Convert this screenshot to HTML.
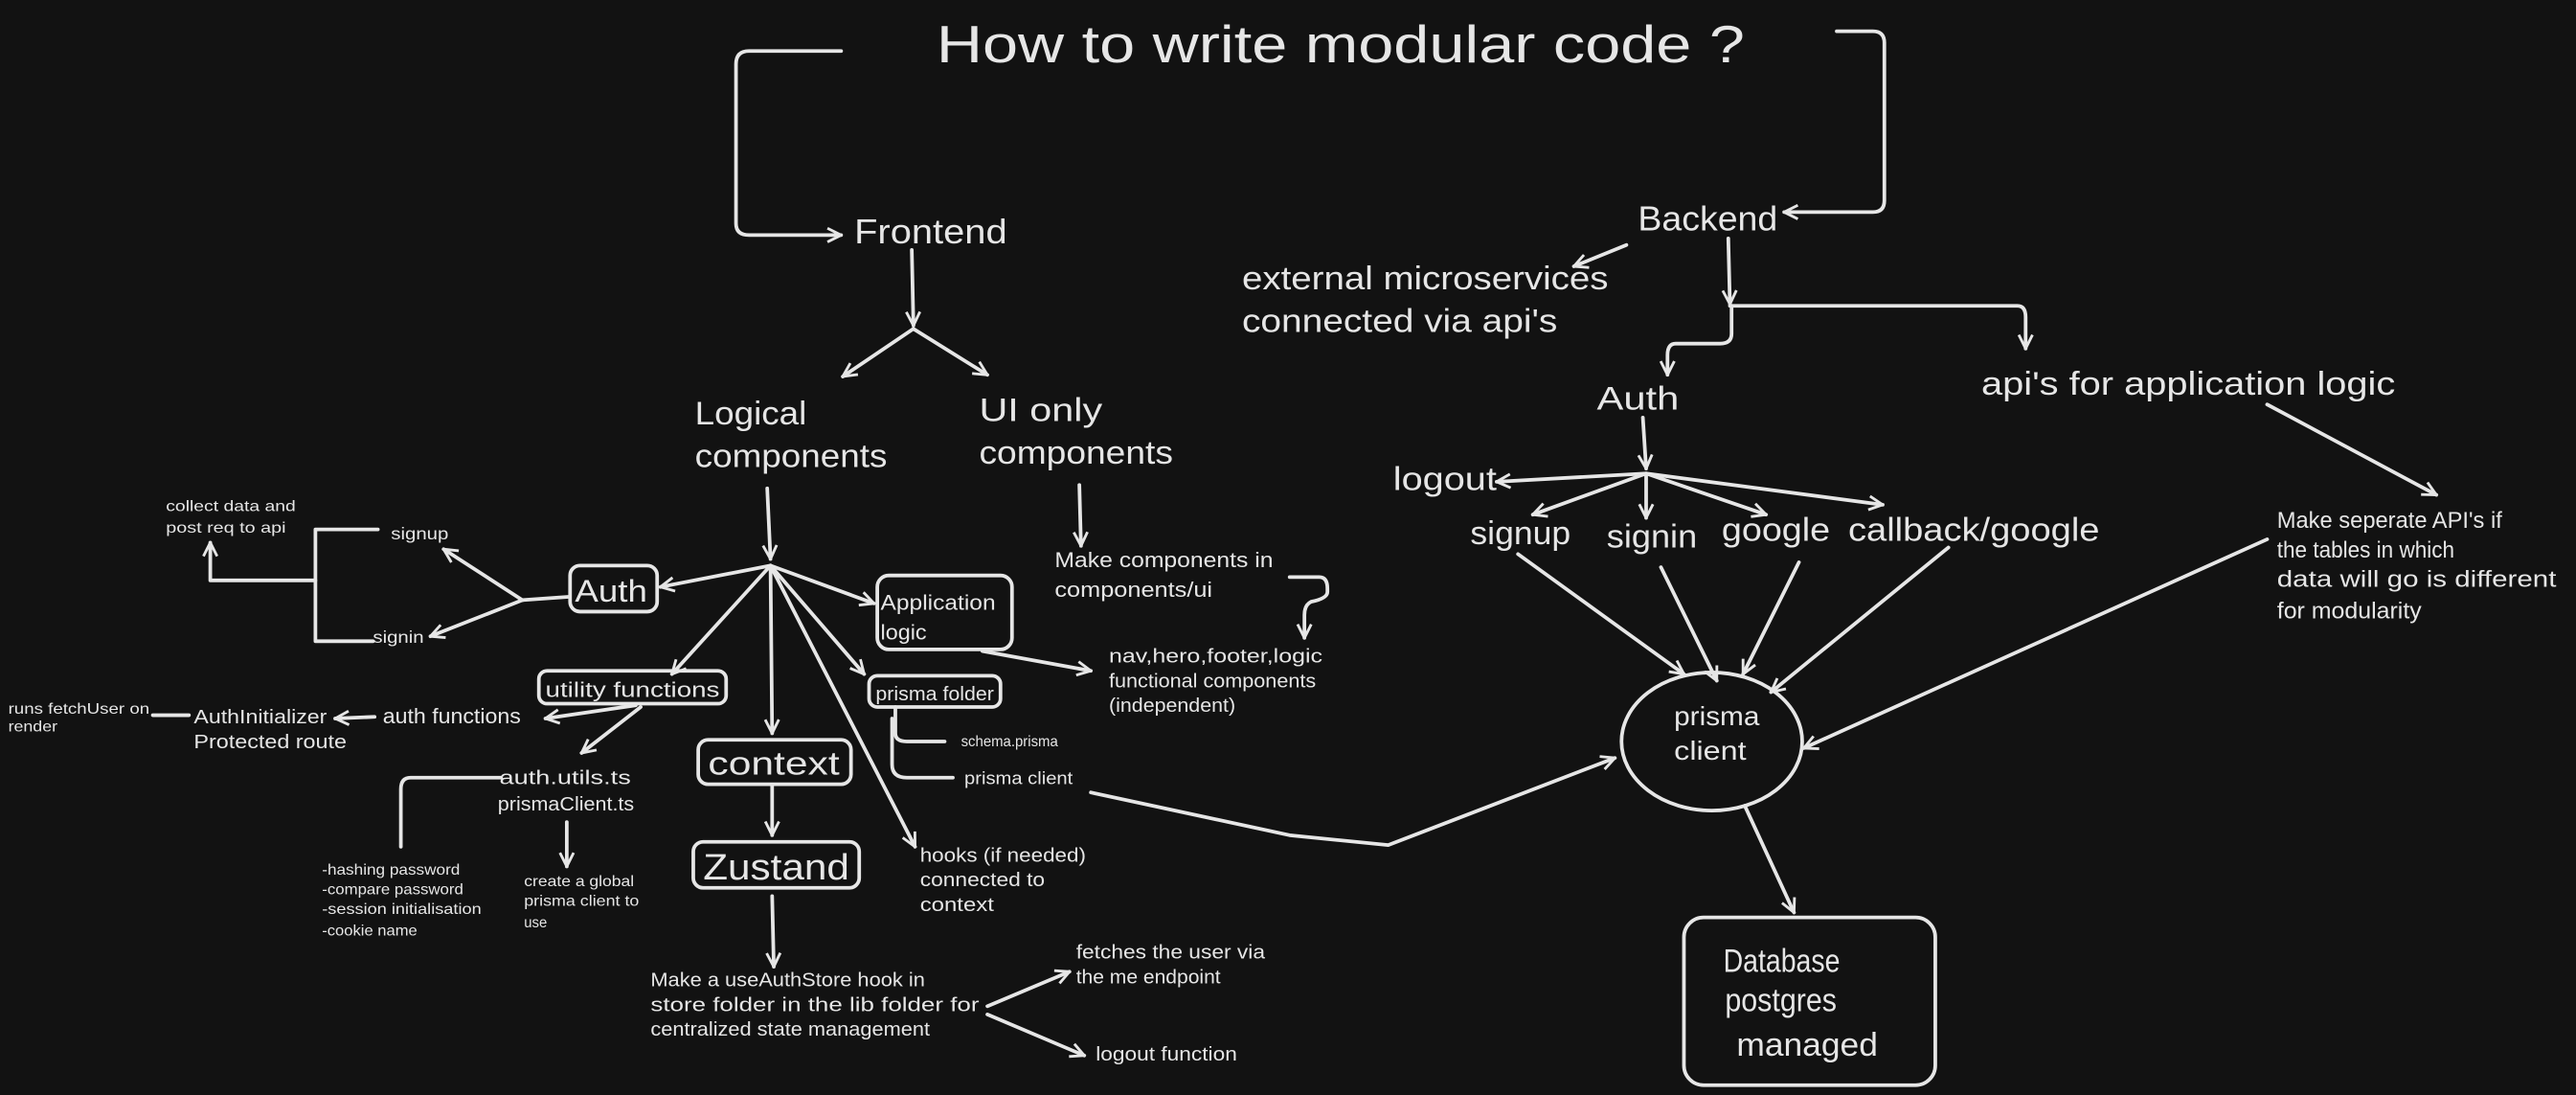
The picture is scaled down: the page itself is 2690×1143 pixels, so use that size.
<!DOCTYPE html>
<html><head><meta charset="utf-8"><style>
html,body{margin:0;padding:0;background:#121212;}
svg{display:block}
text{font-family:"Liberation Sans",sans-serif;fill:#e6e6e6;}
</style></head><body>
<svg width="2690" height="1143" viewBox="0 0 1568 666" preserveAspectRatio="none" xmlns="http://www.w3.org/2000/svg">
<defs>
<marker id="a" viewBox="0 0 12 12" refX="11" refY="6" markerWidth="10" markerHeight="10" markerUnits="userSpaceOnUse" orient="auto">
<path d="M1,1 L11,6 L1,11" fill="none" stroke="#e6e6e6" stroke-width="2"/>
</marker>
</defs>
<rect width="1568" height="666" fill="#121212"/>
<g fill="none" stroke="#e6e6e6" stroke-width="2.2" stroke-linecap="round" stroke-linejoin="round">
<path d="M512,31 H456 Q448,31 448,39 V136 Q448,143 456,143 H512" marker-end="url(#a)"/>
<path d="M1118,19 H1140 Q1147,19 1147,26 V122 Q1147,129 1140,129 H1086" marker-end="url(#a)"/>
<path d="M555,152 L556,198" marker-end="url(#a)"/>
<path d="M556,200 L513,229" marker-end="url(#a)"/>
<path d="M556,200 L601,228" marker-end="url(#a)"/>
<path d="M657,295 L658,332" marker-end="url(#a)"/>
<path d="M785,351 H803 Q808,351 808,358 V360 Q808,364 798,366 Q794,368 794,374 V388" marker-end="url(#a)"/>
<path d="M467,297 L469,340" marker-end="url(#a)"/>
<path d="M469,344 L402,357" marker-end="url(#a)"/>
<path d="M469,344 L532,367" marker-end="url(#a)"/>
<path d="M469,344 L409,410" marker-end="url(#a)"/>
<path d="M469,344 L470,446" marker-end="url(#a)"/>
<path d="M469,344 L526,410" marker-end="url(#a)"/>
<path d="M469,344 L557,515" marker-end="url(#a)"/>
<rect x="347" y="344" width="53" height="28" rx="6"/>
<rect x="534" y="350" width="82" height="45" rx="7"/>
<rect x="328" y="408" width="114" height="20" rx="5"/>
<rect x="529" y="411" width="80" height="19" rx="5"/>
<rect x="425" y="450" width="93" height="27" rx="6"/>
<rect x="422" y="512" width="101" height="28" rx="6"/>
<path d="M470,478 L470,508" marker-end="url(#a)"/>
<path d="M470,545 L471,588" marker-end="url(#a)"/>
<path d="M601,612 L651,591" marker-end="url(#a)"/>
<path d="M601,617 L660,642" marker-end="url(#a)"/>
<path d="M598,396 L664,408" marker-end="url(#a)"/>
<path d="M545,430 V446 Q545,451 552,451 H575"/>
<path d="M543,437 V465 Q543,473 552,473 H580"/>
<path d="M664,482 L785,508 L845,514 L983,461" marker-end="url(#a)"/>
<path d="M387,429 L332,437" marker-end="url(#a)"/>
<path d="M390,430 L354,458" marker-end="url(#a)"/>
<path d="M228,436 L204,437" marker-end="url(#a)"/>
<path d="M93,435 L115,435"/>
<path d="M305,473 H250 Q244,473 244,480 V515"/>
<path d="M345,500 L345,527" marker-end="url(#a)"/>
<path d="M346,363 L318,365"/>
<path d="M318,365 L270,334" marker-end="url(#a)"/>
<path d="M318,365 L262,387" marker-end="url(#a)"/>
<path d="M230,322 H192 V390 H227"/>
<path d="M192,353 H128 V330" marker-end="url(#a)"/>
<path d="M990,149 L958,162" marker-end="url(#a)"/>
<path d="M1052,145 L1053,185" marker-end="url(#a)"/>
<path d="M1053,186 H1228 Q1233,186 1233,193 V212" marker-end="url(#a)"/>
<path d="M1054,186 V203 Q1054,209 1047,209 H1020 Q1015,209 1015,216 V228" marker-end="url(#a)"/>
<path d="M1000,254 L1002,285" marker-end="url(#a)"/>
<path d="M1002,288 L911,293" marker-end="url(#a)"/>
<path d="M1002,288 L933,313" marker-end="url(#a)"/>
<path d="M1002,288 L1002,315" marker-end="url(#a)"/>
<path d="M1002,288 L1075,313" marker-end="url(#a)"/>
<path d="M1002,288 L1146,307" marker-end="url(#a)"/>
<path d="M924,337 L1025,410" marker-end="url(#a)"/>
<path d="M1011,345 L1045,414" marker-end="url(#a)"/>
<path d="M1095,342 L1061,410" marker-end="url(#a)"/>
<path d="M1186,333 L1078,421" marker-end="url(#a)"/>
<path d="M1380,328 L1098,455" marker-end="url(#a)"/>
<path d="M1380,246 L1483,301" marker-end="url(#a)"/>
<ellipse cx="1042" cy="451" rx="55" ry="42"/>
<path d="M1062,490 L1092,555" marker-end="url(#a)"/>
<rect x="1025" y="558" width="153" height="102" rx="12"/>
</g>
<g>
<text x="570" y="38" font-size="32" textLength="492" lengthAdjust="spacingAndGlyphs">How to write modular code ?</text>
<text x="520" y="148" font-size="21" textLength="93" lengthAdjust="spacingAndGlyphs">Frontend</text>
<text x="997" y="140" font-size="21" textLength="85" lengthAdjust="spacingAndGlyphs">Backend</text>
<text x="423" y="258" font-size="20" textLength="68" lengthAdjust="spacingAndGlyphs">Logical</text>
<text x="423" y="284" font-size="20" textLength="117" lengthAdjust="spacingAndGlyphs">components</text>
<text x="596" y="256" font-size="20" textLength="75" lengthAdjust="spacingAndGlyphs">UI only</text>
<text x="596" y="282" font-size="20" textLength="118" lengthAdjust="spacingAndGlyphs">components</text>
<text x="642" y="345" font-size="13" textLength="133" lengthAdjust="spacingAndGlyphs">Make components in</text>
<text x="642" y="363" font-size="13" textLength="96" lengthAdjust="spacingAndGlyphs">components/ui</text>
<text x="675" y="403" font-size="12" textLength="130" lengthAdjust="spacingAndGlyphs">nav,hero,footer,logic</text>
<text x="675" y="418" font-size="12" textLength="126" lengthAdjust="spacingAndGlyphs">functional components</text>
<text x="675" y="433" font-size="12" textLength="77" lengthAdjust="spacingAndGlyphs">(independent)</text>
<text x="350" y="366" font-size="19" textLength="44" lengthAdjust="spacingAndGlyphs">Auth</text>
<text x="536" y="371" font-size="13" textLength="70" lengthAdjust="spacingAndGlyphs">Application</text>
<text x="536" y="389" font-size="13" textLength="28" lengthAdjust="spacingAndGlyphs">logic</text>
<text x="332" y="424" font-size="13" textLength="106" lengthAdjust="spacingAndGlyphs">utility functions</text>
<text x="533" y="426" font-size="12" textLength="72" lengthAdjust="spacingAndGlyphs">prisma folder</text>
<text x="431" y="471" font-size="20" textLength="80" lengthAdjust="spacingAndGlyphs">context</text>
<text x="428" y="535" font-size="22" textLength="89" lengthAdjust="spacingAndGlyphs">Zustand</text>
<text x="396" y="600" font-size="12" textLength="167" lengthAdjust="spacingAndGlyphs">Make a useAuthStore hook in</text>
<text x="396" y="615" font-size="12" textLength="200" lengthAdjust="spacingAndGlyphs">store folder in the lib folder for</text>
<text x="396" y="630" font-size="12" textLength="170" lengthAdjust="spacingAndGlyphs">centralized state management</text>
<text x="655" y="583" font-size="12" textLength="115" lengthAdjust="spacingAndGlyphs">fetches the user via</text>
<text x="655" y="598" font-size="12" textLength="88" lengthAdjust="spacingAndGlyphs">the me endpoint</text>
<text x="667" y="645" font-size="12" textLength="86" lengthAdjust="spacingAndGlyphs">logout function</text>
<text x="585" y="454" font-size="9" textLength="59" lengthAdjust="spacingAndGlyphs">schema.prisma</text>
<text x="587" y="477" font-size="11" textLength="66" lengthAdjust="spacingAndGlyphs">prisma client</text>
<text x="560" y="524" font-size="12" textLength="101" lengthAdjust="spacingAndGlyphs">hooks (if needed)</text>
<text x="560" y="539" font-size="12" textLength="76" lengthAdjust="spacingAndGlyphs">connected to</text>
<text x="560" y="554" font-size="12" textLength="45" lengthAdjust="spacingAndGlyphs">context</text>
<text x="233" y="440" font-size="13" textLength="84" lengthAdjust="spacingAndGlyphs">auth functions</text>
<text x="118" y="440" font-size="12" textLength="81" lengthAdjust="spacingAndGlyphs">AuthInitializer</text>
<text x="118" y="455" font-size="12" textLength="93" lengthAdjust="spacingAndGlyphs">Protected route</text>
<text x="5" y="434" font-size="9" textLength="86" lengthAdjust="spacingAndGlyphs">runs fetchUser on</text>
<text x="5" y="445" font-size="9" textLength="30" lengthAdjust="spacingAndGlyphs">render</text>
<text x="304" y="477" font-size="12" textLength="80" lengthAdjust="spacingAndGlyphs">auth.utils.ts</text>
<text x="303" y="493" font-size="12" textLength="83" lengthAdjust="spacingAndGlyphs">prismaClient.ts</text>
<text x="196" y="532" font-size="9" textLength="84" lengthAdjust="spacingAndGlyphs">-hashing password</text>
<text x="196" y="544" font-size="9" textLength="86" lengthAdjust="spacingAndGlyphs">-compare password</text>
<text x="196" y="556" font-size="9" textLength="97" lengthAdjust="spacingAndGlyphs">-session initialisation</text>
<text x="196" y="569" font-size="9" textLength="58" lengthAdjust="spacingAndGlyphs">-cookie name</text>
<text x="319" y="539" font-size="9" textLength="67" lengthAdjust="spacingAndGlyphs">create a global</text>
<text x="319" y="551" font-size="9" textLength="70" lengthAdjust="spacingAndGlyphs">prisma client to</text>
<text x="319" y="564" font-size="9" textLength="14" lengthAdjust="spacingAndGlyphs">use</text>
<text x="238" y="328" font-size="10" textLength="35" lengthAdjust="spacingAndGlyphs">signup</text>
<text x="227" y="391" font-size="10" textLength="31" lengthAdjust="spacingAndGlyphs">signin</text>
<text x="101" y="311" font-size="9" textLength="79" lengthAdjust="spacingAndGlyphs">collect data and</text>
<text x="101" y="324" font-size="9" textLength="73" lengthAdjust="spacingAndGlyphs">post req to api</text>
<text x="756" y="176" font-size="20" textLength="223" lengthAdjust="spacingAndGlyphs">external microservices</text>
<text x="756" y="202" font-size="20" textLength="192" lengthAdjust="spacingAndGlyphs">connected via api's</text>
<text x="972" y="249" font-size="20" textLength="50" lengthAdjust="spacingAndGlyphs">Auth</text>
<text x="1206" y="240" font-size="20" textLength="252" lengthAdjust="spacingAndGlyphs">api's for application logic</text>
<text x="848" y="298" font-size="20" textLength="63" lengthAdjust="spacingAndGlyphs">logout</text>
<text x="895" y="331" font-size="20" textLength="61" lengthAdjust="spacingAndGlyphs">signup</text>
<text x="978" y="333" font-size="20" textLength="55" lengthAdjust="spacingAndGlyphs">signin</text>
<text x="1048" y="329" font-size="20" textLength="66" lengthAdjust="spacingAndGlyphs">google</text>
<text x="1125" y="329" font-size="20" textLength="153" lengthAdjust="spacingAndGlyphs">callback/google</text>
<text x="1386" y="321" font-size="14" textLength="137" lengthAdjust="spacingAndGlyphs">Make seperate API's if</text>
<text x="1386" y="339" font-size="14" textLength="108" lengthAdjust="spacingAndGlyphs">the tables in which</text>
<text x="1386" y="357" font-size="14" textLength="170" lengthAdjust="spacingAndGlyphs">data will go is different</text>
<text x="1386" y="376" font-size="14" textLength="88" lengthAdjust="spacingAndGlyphs">for modularity</text>
<text x="1019" y="441" font-size="16" textLength="52" lengthAdjust="spacingAndGlyphs">prisma</text>
<text x="1019" y="462" font-size="16" textLength="44" lengthAdjust="spacingAndGlyphs">client</text>
<text x="1049" y="591" font-size="20" textLength="71" lengthAdjust="spacingAndGlyphs">Database</text>
<text x="1050" y="615" font-size="20" textLength="68" lengthAdjust="spacingAndGlyphs">postgres</text>
<text x="1057" y="642" font-size="20" textLength="86" lengthAdjust="spacingAndGlyphs">managed</text>
</g>
</svg>
</body></html>
